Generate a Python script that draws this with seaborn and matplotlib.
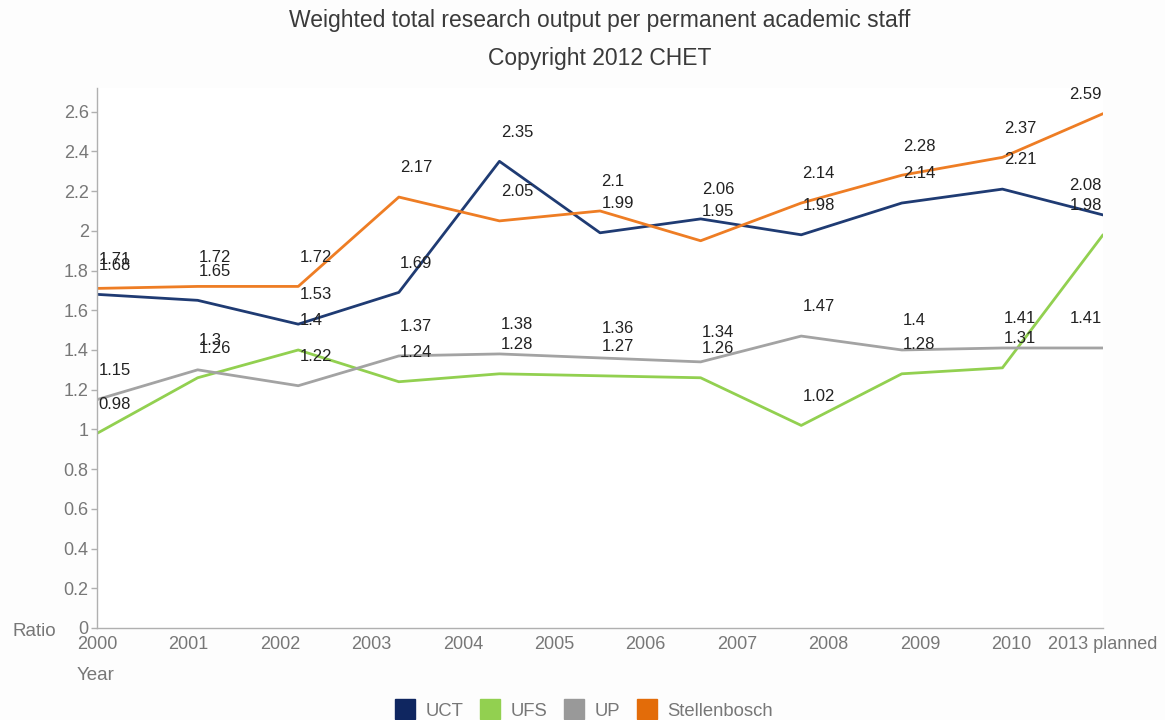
import numpy as np
import pandas as pd
import matplotlib.pyplot as plt
import seaborn as sns
from matplotlib.lines import Line2D

# data
tick_labels = ["2000", "2001", "2002", "2003", "2004", "2005", "2006",
               "2007", "2008", "2009", "2010", "2013 planned"]
uct = [1.68, 1.65, 1.53, 1.69, 2.35, 1.99, 2.06, 1.98, 2.14, 2.21, 2.08]
ufs = [0.98, 1.26, 1.40, 1.24, 1.28, 1.27, 1.26, 1.02, 1.28, 1.31, 1.98]
up = [1.15, 1.30, 1.22, 1.37, 1.38, 1.36, 1.34, 1.47, 1.40, 1.41, 1.41]
stellenbosch = [1.71, 1.72, 1.72, 2.17, 2.05, 2.10, 1.95, 2.14, 2.28, 2.37, 2.59]
series_names = ["UCT", "UFS", "UP", "Stellenbosch"]

line_colors = {"UCT": "#1f3b73", "UFS": "#92d050", "UP": "#a3a3a3", "Stellenbosch": "#ee7d24"}
legend_colors = {"UCT": "#0f2660", "UFS": "#92d050", "UP": "#999999", "Stellenbosch": "#e36c09"}

values = {"UCT": uct, "UFS": ufs, "UP": up, "Stellenbosch": stellenbosch}
rows = []
for name in series_names:
    for i, v in enumerate(values[name]):
        rows.append({"pos": i, "value": v, "series": name})
df = pd.DataFrame(rows)

sns.set_style("white")
plt.rcParams['font.family'] = ['Liberation Sans', 'DejaVu Sans']

fig = plt.figure(figsize=(11.65, 7.2), dpi=100)
fig.patch.set_facecolor("#fdfdfd")
ax = fig.add_axes([0.0833, 0.1278, 0.8635, 0.7502])
ax.set_facecolor("#ffffff")

sns.lineplot(data=df, x="pos", y="value", hue="series", palette=line_colors,
             hue_order=series_names, linewidth=2, legend=False, ax=ax)

ymax = 2.72
pts_per_unit = 0.7502 * 7.2 * 72 / ymax
n = len(uct)
for name in series_names:
    for i, v in enumerate(values[name]):
        # labels sit above the point, pushed down near the top of the plot
        dy = min(21, (2.685 - v) * pts_per_unit)
        if i == n - 1:
            ax.annotate(f"{v:g}", (i, v), xytext=(-1, dy), textcoords="offset points",
                        ha="right", va="center", fontsize=12, color="#222222")
        else:
            ax.annotate(f"{v:g}", (i, v), xytext=(1, dy), textcoords="offset points",
                        ha="left", va="center", fontsize=12, color="#222222")

ax.set_xlim(0, n - 1)
ax.set_ylim(0, ymax)
yt = np.round(np.arange(0, 2.61, 0.2), 1)
ax.set_yticks(yt)
ax.set_yticklabels([f"{t:g}" for t in yt])
ax.set_xticks(np.linspace(0, n - 1, len(tick_labels)))
ax.set_xticklabels(tick_labels)

for s in ["top", "right"]:
    ax.spines[s].set_visible(False)
for s in ["left", "bottom"]:
    ax.spines[s].set_color("#b0b0b0")
    ax.spines[s].set_linewidth(1)
ax.tick_params(axis="y", colors="#b0b0b0", labelcolor="#777777", labelsize=13,
               length=4, width=1, left=True, pad=2)
ax.tick_params(axis="x", labelcolor="#777777", labelsize=13, bottom=False, pad=2)
ax.set_xlabel("")
ax.set_ylabel("")

fig.text(12 / 1165, 1 - 632 / 720, "Ratio", fontsize=13.5, color="#777777", va="center")
fig.text(77 / 1165, 1 - 675 / 720, "Year", fontsize=13.5, color="#777777", va="center")

fig.text(600 / 1165, 1 - 20 / 720, "Weighted total research output per permanent academic staff",
         fontsize=16.5, color="#3a3a3a", ha="center", va="center")
fig.text(600 / 1165, 1 - 58 / 720, "Copyright 2012 CHET",
         fontsize=16.5, color="#3a3a3a", ha="center", va="center")

handles = [Line2D([], [], marker="s", linestyle="none", markersize=14.5,
                  markerfacecolor=legend_colors[k], markeredgecolor=legend_colors[k])
           for k in series_names]
leg = fig.legend(handles, series_names, loc="center", bbox_to_anchor=(584 / 1165, 1 - 711 / 720),
                 ncol=4, frameon=False, fontsize=13.3, handlelength=1.1, handletextpad=0.55,
                 columnspacing=0.9, borderpad=0, borderaxespad=0)
for t in leg.get_texts():
    t.set_color("#777777")

fig.savefig("out.png", dpi=100, facecolor=fig.get_facecolor())
